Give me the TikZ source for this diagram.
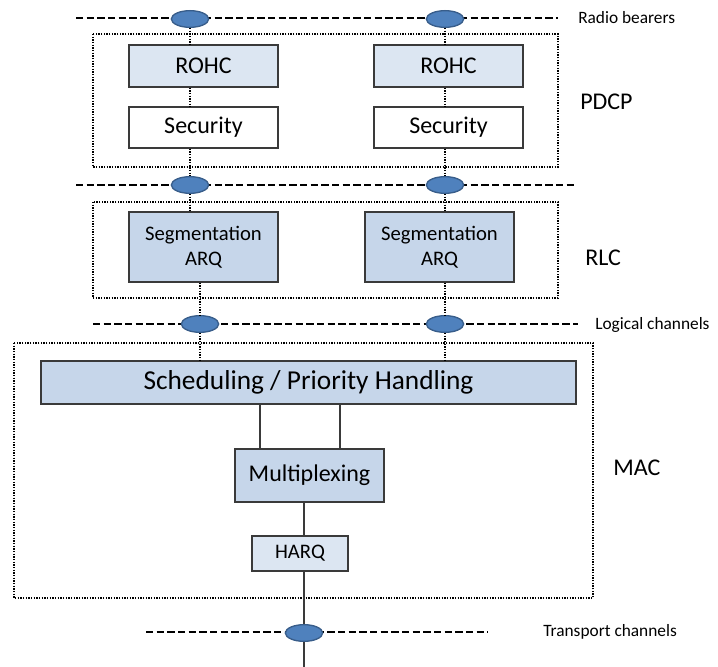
\documentclass[tikz,border=0pt]{standalone}
\usepackage{fontspec}
\setmainfont{Carlito}
\usetikzlibrary{shapes.geometric}
\definecolor{chanblue}{HTML}{4F81BD}
\definecolor{chanedge}{HTML}{385D8A}
\definecolor{lightfill}{HTML}{DCE6F2}
\definecolor{midfill}{HTML}{C6D6EA}
\definecolor{boxedge}{HTML}{3A3A3A}

\begin{document}
\begin{tikzpicture}[x=0.75pt,y=-0.75pt,
  chan/.style={ellipse,draw=chanedge,fill=chanblue,line width=1pt,minimum width=28pt,minimum height=12.5pt,inner sep=0pt},
  blk/.style={draw=boxedge,line width=0.9pt,inner sep=0pt,align=center},
  chline/.style={line width=1.6pt,dash pattern=on 5.5pt off 2.5pt},
  frame/.style={line width=1.1pt,dash pattern=on 1pt off 1pt},
  link/.style={line width=1pt,dash pattern=on 1pt off 1pt},
  wire/.style={draw=boxedge,line width=0.9pt},
  lbl/.style={anchor=west,inner sep=0pt}]
\useasboundingbox (0,0) rectangle (718,667);
\coordinate (rbL) at (76,18); \coordinate (rbR) at (558,18);
\coordinate (pdL) at (76,185); \coordinate (pdR) at (575,185);
\coordinate (lcL) at (93,324); \coordinate (lcR) at (578,324);
\coordinate (tcL) at (146,632); \coordinate (tcR) at (488,632);
\coordinate (bot) at (304,667);
\draw[chline] (rbL) -- (rbR);
\draw[chline] (pdL) -- (pdR);
\draw[chline] (lcL) -- (lcR);
\draw[chline] (tcL) -- (tcR);
\draw[frame] (93,34) rectangle (558,167);
\draw[frame] (93,202) rectangle (558,298);
\draw[frame] (14,343) rectangle (593,598);

\node[chan] (rb1) at (190,19) {};
\node[chan] (rb2) at (445,19) {};
\node[chan] (pd1) at (190,185) {};
\node[chan] (pd2) at (445,185) {};
\node[chan] (lc1) at (200,324) {};
\node[chan] (lc2) at (445,324) {};
\node[chan] (tc) at (304,633) {};

\node[blk,fill=lightfill,minimum width=111.75pt,minimum height=31.5pt,font=\fontsize{18}{20}\selectfont] (rohc1) at (203.5,66) {ROHC};
\node[blk,fill=lightfill,minimum width=111.75pt,minimum height=31.5pt,font=\fontsize{18}{20}\selectfont] (rohc2) at (448.5,66) {ROHC};
\node[blk,fill=white,minimum width=111.75pt,minimum height=30.75pt,font=\fontsize{18}{20}\selectfont] (sec1) at (203.5,127.5) {Security};
\node[blk,fill=white,minimum width=111.75pt,minimum height=30.75pt,font=\fontsize{18}{20}\selectfont] (sec2) at (448.5,127.5) {Security};
\node[blk,fill=midfill,minimum width=111.75pt,minimum height=52.5pt,font=\fontsize{15.5}{19}\selectfont] (seg1) at (203.5,247) {Segmentation\\ARQ};
\node[blk,fill=midfill,minimum width=111.75pt,minimum height=52.5pt,font=\fontsize{15.5}{19}\selectfont] (seg2) at (439.5,247) {Segmentation\\ARQ};
\node[blk,fill=midfill,minimum width=401.25pt,minimum height=32.25pt,font=\fontsize{20.5}{22}\selectfont] (sched) at (308.5,382.5) {Scheduling / Priority Handling};
\node[blk,fill=midfill,minimum width=111.75pt,minimum height=39.75pt,font=\fontsize{18}{20}\selectfont] (mux) at (309.5,475.5) {Multiplexing};
\node[blk,fill=lightfill,minimum width=72pt,minimum height=26.25pt,font=\fontsize{15.5}{18}\selectfont] (harq) at (300,553.5) {HARQ};

\draw[link] (rb1.south) -- (rb1.south |- rohc1.north);
\draw[link] (rohc1.south -| rb1) -- (sec1.north -| rb1);
\draw[link] (sec1.south -| rb1) -- (pd1.north);
\draw[link] (pd1.south) -- (pd1.south |- seg1.north);
\draw[link] (seg1.south -| lc1) -- (lc1.north);
\draw[link] (lc1.south) -- (lc1.south |- sched.north);
\draw[link] (rb2.south) -- (rb2.south |- rohc2.north);
\draw[link] (rohc2.south -| rb2) -- (sec2.north -| rb2);
\draw[link] (sec2.south -| rb2) -- (pd2.north);
\draw[link] (pd2.south) -- (pd2.south |- seg2.north);
\draw[link] (seg2.south -| lc2) -- (lc2.north);
\draw[link] (lc2.south) -- (lc2.south |- sched.north);
\draw[wire] (sched.south -| 260,0) -- (mux.north -| 260,0);
\draw[wire] (sched.south -| 340,0) -- (mux.north -| 340,0);
\draw[wire] (mux.south -| tc) -- (harq.north -| tc);
\draw[wire] (harq.south -| tc) -- (tc.north);
\draw[wire] (tc.south) -- (bot);

\node[lbl,font=\fontsize{13}{15}\selectfont] (rblbl) at (578,18) {Radio bearers};
\node[lbl,font=\fontsize{18}{20}\selectfont] (pdcp) at (580,102) {PDCP};
\node[lbl,font=\fontsize{18}{20}\selectfont] (rlc) at (585,258) {RLC};
\node[lbl,font=\fontsize{13}{15}\selectfont] (lclbl) at (595,325) {Logical channels};
\node[lbl,font=\fontsize{18}{20}\selectfont] (mac) at (613,468) {MAC};
\node[lbl,font=\fontsize{13}{15}\selectfont] (tclbl) at (543,632) {Transport channels};
\end{tikzpicture}
\end{document}
